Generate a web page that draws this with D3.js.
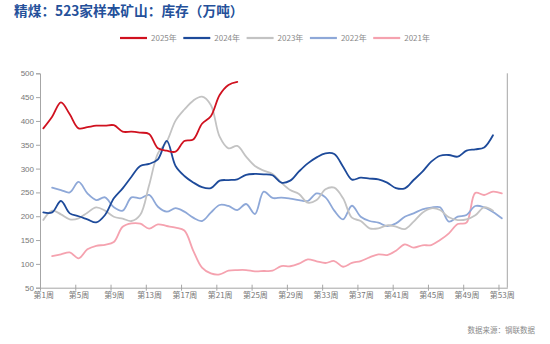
<!DOCTYPE html>
<html><head><meta charset="utf-8">
<script src="https://cdn.jsdelivr.net/npm/d3@7"></script>
<style>body{margin:0;background:#fff}svg{display:block}</style>
</head><body>
<script>
const title = "精煤：523家样本矿山：库存（万吨）";
const source = "数据来源：钢联数据";
const seriesNames = ["2025年","2024年","2023年","2022年","2021年"];
const seriesColors = ["#d0111f","#1d4a9a","#c3c3c3","#8ea8d8","#f5a2af"];
const yTicks = [50,100,150,200,250,300,350,400,450,500];
const xTickWeeks = [1,5,9,13,17,21,25,29,33,37,41,45,49,53];
const xTickLabels = xTickWeeks.map(w => "第" + w + "周");

const y2025 = [384.5,409,439,414,384.5,387,390,390,391,377.5,377.5,375.5,372.6,342.5,337.6,335.5,358,361,394,410,454.5,475.5,482];
const y2024 = [208,208,232,206,200,193.5,187,202.6,237.6,258.6,283,305.5,309.7,319.5,358,305.5,284.5,271,261,259,274.7,276,277.5,287,288.7,288,286,270.5,274.7,294,311,323.6,332,330.6,304,277,281,279,277.5,270.5,259,258.6,276,293.6,314.6,327,328.5,325,337.6,340.4,344.5,370];
const y2023 = [192,211.7,204,193.5,195.6,207.5,218.7,211.7,199,195,190,203,265,332,356.6,400.6,424,442.6,451,433.5,367,342.5,347.5,325,305.5,295.7,288.7,270.5,255,246.7,228.5,234,256.5,260,237.6,197,190,174.6,174.6,181,178,173,188.6,207.5,216.6,213,197.7,192,193.5,202,218.7,211.7];
const y2022 = [null,260,255,250,272,248,234,239.7,218.7,211.7,239.7,237.6,244.6,220,209.6,217,209.6,197,190,207.5,223.6,221.5,213,225.7,204.7,251.6,238.3,239,237,234,232,248,239.7,211.7,193.5,222,199,190,186.5,179.5,185,199,206,214.5,218,218.7,188.6,199,202.6,221.5,218.7,209,195.6];
const y2021 = [null,116.5,120,124,111.6,130.5,138,140,146,178,185,184.4,174,183,179.5,176,170,128,92,80,78,85.7,87,87,84.3,85,85.7,95.5,95,100.4,109.5,105.3,101.8,106,94,102,106,113.7,120,118.6,127.7,141,134,139,139.6,150,164,183.6,186.5,249,244.6,251.6,248];
const seriesData = [y2025,y2024,y2023,y2022,y2021];

const W = 550, H = 344;
const svg = d3.select("body").append("svg").attr("width", W).attr("height", H);
const cjk = "'Noto Sans CJK SC','Noto Sans',sans-serif";

const x = d3.scaleLinear().domain([1, 54]).range([40, 507.3]);
const y = d3.scaleLinear().domain([50, 500]).range([287.7, 73.3]);
const dataOffset = 0.375;
const labelShift = x(1 + dataOffset) - x(1);

// title
svg.append("text").attr("x", 14).attr("y", 16).text(title)
  .attr("font-family", cjk).attr("font-weight", "bold").attr("font-size", 13.7)
  .attr("fill", "#24509a");

// legend
const legend = svg.append("g");
seriesNames.forEach((n, i) => {
  const lx = 120 + i * 63.3;
  legend.append("line").attr("x1", lx).attr("x2", lx + 27).attr("y1", 38).attr("y2", 38)
    .attr("stroke", seriesColors[i]).attr("stroke-width", 2.2);
  legend.append("text").attr("x", lx + 31).attr("y", 41).text(n)
    .attr("font-family", cjk).attr("font-size", 8).attr("fill", "#8a8a8a");
});

const axisColor = "#a6a6a6";
// y axis
const yAxis = svg.append("g").attr("transform", "translate(40,0)")
  .call(d3.axisLeft(y).tickValues(yTicks).tickSize(4).tickPadding(2));
yAxis.select(".domain").attr("stroke", axisColor);
yAxis.selectAll(".tick line").attr("stroke", axisColor);
yAxis.selectAll("text").attr("font-family", "'Liberation Sans',Arial,sans-serif").attr("font-size", 8).attr("fill", "#777");

// x axis
const xAxis = svg.append("g").attr("transform", "translate(0,287.7)")
  .call(d3.axisBottom(x).tickValues(xTickWeeks).tickFormat((d,i) => xTickLabels[i]).tickSizeInner(3).tickSizeOuter(0).tickPadding(2));
xAxis.select(".domain").attr("stroke", axisColor);
xAxis.selectAll(".tick line").attr("stroke", axisColor).attr("y1", -3);
xAxis.selectAll("text").attr("x", labelShift).attr("font-family", cjk).attr("font-size", 8).attr("fill", "#777");

// right frame line
svg.append("line").attr("x1", x(54)).attr("x2", x(54)).attr("y1", y(500)).attr("y2", y(50))
  .attr("stroke", axisColor);

// lines
const line = d3.line()
  .defined(d => d != null)
  .x((d, i) => x(i + 1 + dataOffset))
  .y(d => y(d))
  .curve(d3.curveCatmullRom.alpha(0.5));

const order = [4,3,2,1,0];
order.forEach(k => {
  svg.append("path").datum(seriesData[k]).attr("d", line)
    .attr("fill", "none").attr("stroke", seriesColors[k]).attr("stroke-width", 1.8)
    .attr("stroke-linejoin", "round").attr("stroke-linecap", "round");
});

// source
svg.append("text").attr("x", 535).attr("y", 333).attr("text-anchor", "end").text(source)
  .attr("font-family", cjk).attr("font-size", 7.5).attr("fill", "#8a8a8a");
</script>
</body></html>
